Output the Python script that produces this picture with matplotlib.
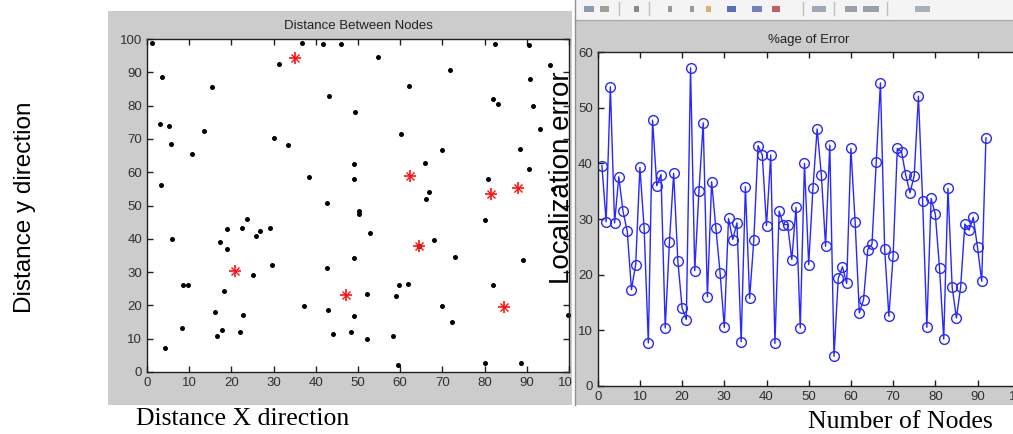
import matplotlib.pyplot as plt
from matplotlib.patches import Rectangle
from matplotlib.lines import Line2D

plt.rcParams['font.family'] = ['Liberation Sans', 'DejaVu Sans']

# ordinary nodes (black dots)
node_x = [1.3, 3.6, 3.0, 5.1, 5.8, 3.2, 6.0, 4.2, 8.5, 9.7, 8.3, 10.6, 13.6, 15.5, 16.2,
          16.6, 17.8, 17.4, 18.9, 18.9, 18.3, 22.6, 23.6, 22.7, 22.1, 25.9, 26.8, 29.1,
          25.2, 29.6, 30.0, 31.2, 33.5, 36.7, 38.4, 37.3, 41.8, 46.0, 43.2, 42.6, 42.6,
          43.0, 44.0, 49.4, 49.0, 49.0, 50.2, 50.2, 52.8, 49.0, 49.0, 48.3, 52.2, 52.2,
          54.7, 62.0, 60.3, 65.9, 66.8, 66.1, 68.0, 64.5, 59.6, 61.8, 58.9, 58.4, 59.4,
          70.0, 72.3, 73.0, 69.8, 71.7, 80.7, 80.2, 81.9, 80.2, 82.1, 83.2, 82.5, 90.6,
          90.8, 91.5, 93.2, 95.5, 88.3, 90.6, 89.2, 88.7, 99.8, 96.3]
node_y = [98.7, 88.6, 74.6, 74.0, 68.5, 56.2, 40.0, 7.2, 26.2, 26.2, 13.3, 65.5, 72.3, 85.7,
          18.0, 10.7, 12.7, 39.1, 42.9, 37.0, 24.2, 43.1, 45.8, 17.1, 11.9, 40.8, 42.4,
          43.2, 29.2, 32.1, 70.2, 92.5, 68.2, 98.9, 58.6, 19.8, 98.6, 98.4, 82.8, 50.9,
          31.2, 18.6, 11.3, 78.1, 62.6, 57.9, 48.2, 47.3, 41.7, 34.1, 16.9, 12.1, 23.3,
          9.8, 94.5, 86.0, 71.4, 62.9, 54.1, 52.0, 39.7, 37.7, 26.2, 26.5, 22.7, 10.7,
          2.2, 19.8, 15.1, 34.4, 66.7, 90.7, 57.9, 45.6, 26.2, 2.8, 81.9, 80.4, 98.6,
          98.3, 88.0, 79.8, 73.1, 92.1, 66.9, 61.0, 33.5, 2.8, 17.1, 55.0]

# anchor nodes (red asterisks)
anchor_x = [35.1, 62.4, 81.4, 87.8, 64.5, 20.8, 47.1, 84.6]
anchor_y = [94.2, 58.8, 53.6, 55.3, 37.9, 30.4, 23.1, 19.5]

# percentage of error per node
error_pct = [39.6, 29.5, 53.8, 29.3, 37.6, 31.4, 27.8, 17.3, 21.8, 39.3,
             28.4, 7.7, 47.8, 36.0, 38.0, 10.4, 25.9, 38.2, 22.4, 14.0,
             11.9, 57.2, 20.7, 35.1, 47.3, 16.0, 36.7, 28.4, 20.3, 10.5,
             30.1, 26.3, 29.3, 7.9, 35.8, 15.7, 26.3, 43.2, 41.5, 28.8,
             41.5, 7.6, 31.4, 29.0, 29.0, 22.7, 32.1, 10.4, 40.0, 21.8,
             35.5, 46.2, 37.9, 25.1, 43.3, 5.3, 19.3, 21.4, 18.4, 42.7,
             29.5, 13.1, 15.5, 24.5, 25.5, 40.2, 54.5, 24.6, 12.5, 23.3,
             42.7, 42.1, 37.9, 34.7, 37.8, 52.1, 33.3, 10.5, 33.7, 30.9,
             21.2, 8.4, 35.5, 17.7, 12.2, 17.7, 29.1, 28.0, 30.3, 24.9,
             18.8, 44.6]
node_ids = list(range(1, len(error_pct) + 1))

W, H = 1013, 434
fig = plt.figure(figsize=(W / 100, H / 100), dpi=100)
fig.patch.set_facecolor("white")


def box(x0, y0, x1, y1, color, z):
    # pixel box (top-left origin) -> figure rectangle
    r = Rectangle((x0 / W, 1 - y1 / H), (x1 - x0) / W, (y1 - y0) / H,
                  transform=fig.transFigure, facecolor=color, edgecolor="none", zorder=z)
    fig.add_artist(r)


def vline(x, y0, y1, color, z=2.1):
    fig.add_artist(Line2D([x / W] * 2, [1 - y1 / H, 1 - y0 / H], transform=fig.transFigure,
                          color=color, lw=1, zorder=z))


def style(ax):
    ax.set_facecolor("white")
    for s in ax.spines.values():
        s.set_color("#202020")
        s.set_linewidth(1.0)
    ax.tick_params(direction="in", length=4.5, width=1, top=True, right=True,
                   labelsize=9.5, labelcolor="#303030", color="#202020")


# gray figure windows
box(108, 11, 572, 405, "#cccccc", 0)
box(572, 0, 575, 434, "white", 2)
box(575, 20, 1013, 405, "#cccccc", 2)
box(575, 0, 1013, 19, "#f4f4f4", 2)
fig.add_artist(Line2D([575 / W, 1], [1 - 19.5 / H] * 2, transform=fig.transFigure,
                      color="#a8a8a8", lw=1, zorder=2.1))
vline(575, 0, 405, "#909090")
# toolbar separators and icon blobs
for sx in [619, 649, 803, 834, 887]:
    vline(sx, 2, 15, "#c0c0c0")
for ix, iw, ic in [(584, 10, "#8a9ab0"), (600, 9, "#a0a0a0"), (634, 5, "#888888"),
                   (668, 4, "#999999"), (690, 4, "#999999"), (706, 5, "#d8b070"),
                   (727, 9, "#5a6fb8"), (752, 10, "#7080c0"), (772, 8, "#c06060"),
                   (812, 14, "#a0a8b8"), (845, 12, "#9aa0aa"), (863, 16, "#9aa0aa"),
                   (915, 15, "#a8b0bc")]:
    box(ix, 6, ix + iw, 12, ic, 2.05)

# left: node positions
ax1 = fig.add_axes([147 / W, 1 - 372 / H, 422 / W, 333 / H], zorder=1)
style(ax1)
ax1.plot(node_x, node_y, "o", color="black", ms=3.6, mec="none", clip_on=False)
ax1.plot(anchor_x, anchor_y, "+", color="#ff1010", ms=8.5, mew=1.2)
ax1.plot(anchor_x, anchor_y, "x", color="#ff1010", ms=5.5, mew=1.0)
ax1.set_xlim(0, 100)
ax1.set_ylim(0, 100)
ax1.set_xticks(range(0, 101, 10))
ax1.set_yticks(range(0, 101, 10))
ax1.set_title("Distance Between Nodes", fontsize=9.5, color="#222222", pad=7)

# right: percentage of error
ax2 = fig.add_axes([597.7 / W, 1 - 385.7 / H, 422 / W, 333.4 / H], zorder=3)
style(ax2)
ax2.plot(node_ids, error_pct, "-o", color="#2828ff", lw=1, ms=7, mfc="none", mew=1)
ax2.set_xlim(0, 100)
ax2.set_ylim(0, 60)
ax2.set_xticks(range(0, 101, 10))
ax2.set_yticks(range(0, 61, 10))
ax2.set_title("%age of Error", fontsize=9.5, color="#222222", pad=7)

# outside labels
fig.text(25 / W, 1 - 207 / H, "Distance y direction", rotation=90, ha="center", va="center",
         fontsize=17.5, color="black", zorder=5)
fig.text(562 / W, 1 - 178 / H, "Localization error", rotation=90, ha="center", va="center",
         fontsize=20, color="black", zorder=6)
fig.text(243 / W, 1 - 425 / H, "Distance X direction", ha="center", va="baseline",
         fontsize=18.5, family=["Liberation Serif", "DejaVu Serif"], color="black", zorder=5)
fig.text(900 / W, 1 - 428 / H, "Number of Nodes", ha="center", va="baseline",
         fontsize=18.5, family=["Liberation Serif", "DejaVu Serif"], color="black", zorder=5)

fig.savefig("out.png", dpi=100)
